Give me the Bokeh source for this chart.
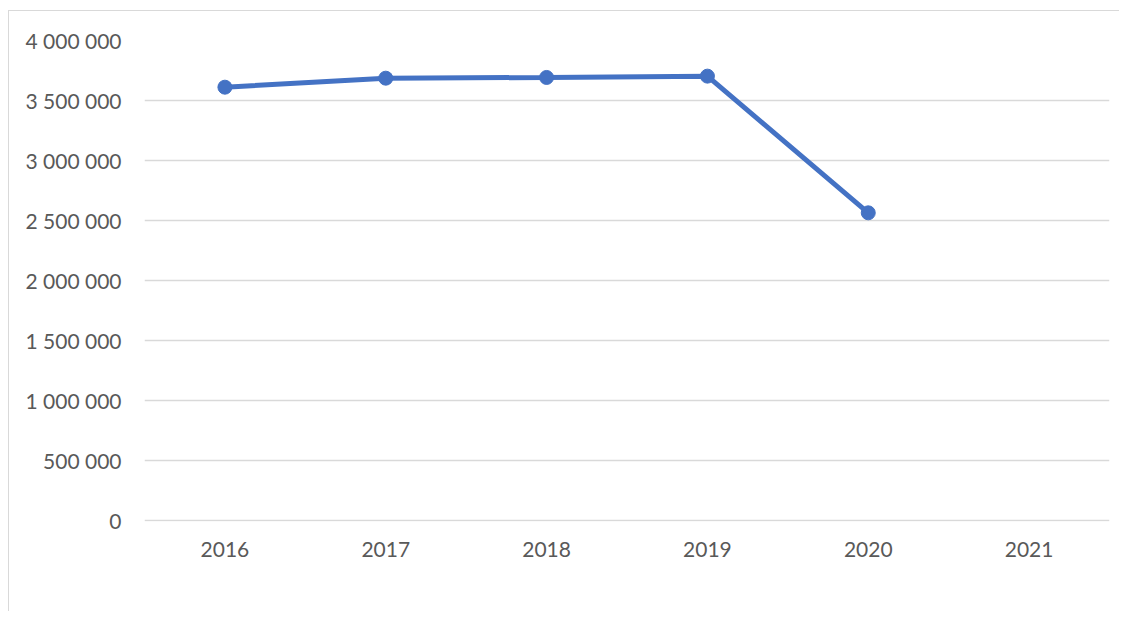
from bokeh.plotting import figure
from bokeh.models import CustomJSTickFormatter, Legend, LegendItem, FactorRange, Range1d
from bokeh.embed import file_html
from bokeh.resources import INLINE

years = ["2016", "2017", "2018", "2019", "2020", "2021"]
data_years = ["2016", "2017", "2018", "2019", "2020"]
trzby = [3611000, 3686000, 3692000, 3703000, 2564000]
series_name = "tržby z jízdného (v tis. Kč)"

FONT = "Lato"
GREY = "#595959"
BLUE = "#4472C4"
GRID = "#d9d9d9"

p = figure(
    x_range=FactorRange(*years, range_padding=0),
    y_range=Range1d(-8400, 4000000),
    frame_width=965, frame_height=481,
    min_border_left=135, min_border_top=29, min_border_right=10, min_border_bottom=72,
    output_backend="svg", toolbar_location=None,
)
p.styles = {"border-left": "1px solid #d9d9d9", "border-top": "1px solid #d9d9d9",
            "margin-top": "10px", "margin-left": "8px", "height": "601px"}
p.outline_line_color = None
p.background_fill_color = "white"
p.border_fill_color = "white"

p.xgrid.grid_line_color = None
p.ygrid.grid_line_color = GRID
p.ygrid.grid_line_width = 1.5
p.yaxis.ticker = [0, 500000, 1000000, 1500000, 2000000, 2500000, 3000000, 3500000, 4000000]
p.yaxis.formatter = CustomJSTickFormatter(code='return tick.toFixed(0).replace(/\\B(?=(\\d{3})+(?!\\d))/g, " ");')

for ax in (p.xaxis, p.yaxis):
    ax.axis_line_color = None
    ax.major_tick_line_color = None
    ax.minor_tick_line_color = None
    ax.major_tick_out = 0
    ax.major_tick_in = 0
    ax.major_label_text_font = FONT
    ax.major_label_text_font_size = "21px"
    ax.major_label_text_color = GREY
p.yaxis.major_label_standoff = 23
p.xaxis.major_label_standoff = 20

l = p.line(data_years, trzby, line_color=BLUE, line_width=5)
c = p.scatter(data_years, trzby, size=14, fill_color=BLUE, line_color=BLUE)

legend = Legend(items=[LegendItem(label=series_name, renderers=[l, c])],
                location=(297, 0), orientation="horizontal")
legend.padding = 0
legend.margin = 0
legend.border_line_alpha = 0
legend.background_fill_alpha = 0
legend.glyph_width = 45
legend.glyph_height = 20
legend.label_standoff = 2
legend.label_text_font = FONT
legend.label_text_font_size = "21px"
legend.label_text_color = GREY
p.add_layout(legend, "below")

open("out.html", "w").write(file_html(p, INLINE))
